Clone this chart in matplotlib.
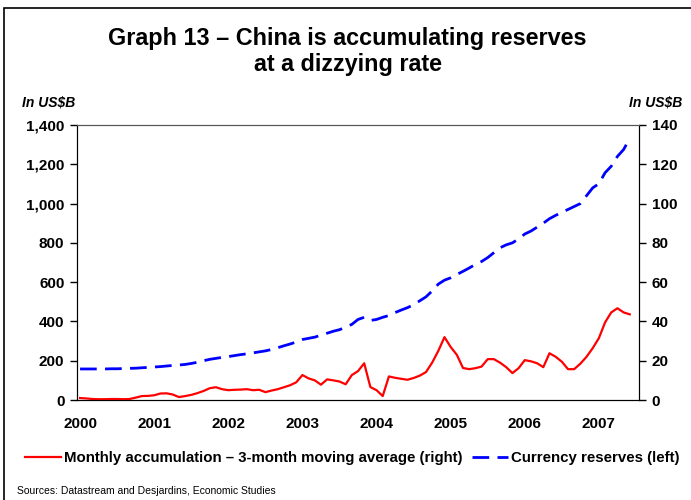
import matplotlib.pyplot as plt
from matplotlib.patches import Rectangle

plt.rcParams['font.family'] = ['Liberation Sans', 'DejaVu Sans']

# monthly data, Jan 2000 - Jun 2007
years = ["2000", "2001", "2002", "2003", "2004", "2005", "2006", "2007"]

# currency reserves, US$B (left axis)
reserves = [158, 158, 158, 158, 158, 159, 159, 160, 161, 162, 164, 166,
            168, 170, 173, 176, 178, 181, 186, 192, 200, 207, 212, 217,
            221, 226, 231, 235, 240, 245, 250, 257, 266, 276, 285, 295,
            308, 314, 320, 330, 340, 350, 358, 370, 385, 410, 421, 405,
            410, 421, 430, 445, 458, 470, 485, 505, 525, 555, 590, 610,
            622, 639, 655, 672, 690, 705, 725, 750, 775, 790, 800, 820,
            845, 860, 880, 900, 923, 940, 955, 970, 985, 1000, 1040, 1080,
            1101, 1157, 1190, 1240, 1275, 1332]

# monthly accumulation, 3-month moving average, US$B (right axis)
accumulation = [1.0, 0.8, 0.5, 0.4, 0.4, 0.5, 0.5, 0.4, 0.5, 1.2, 2.0, 2.1,
                2.4, 3.3, 3.4, 2.8, 1.5, 2.0, 2.6, 3.5, 4.6, 6.0, 6.5, 5.5,
                5.0, 5.2, 5.3, 5.5, 5.0, 5.2, 4.0, 4.8, 5.5, 6.5, 7.5, 9.0,
                12.7, 11.0, 10.0, 7.8, 10.5, 10.0, 9.4, 8.0, 12.7, 14.7, 18.7, 6.6,
                5.0, 2.0, 12.0, 11.3, 10.8, 10.3, 11.2, 12.4, 14.2, 19.0, 25.0, 32.0,
                27.0, 23.0, 16.3, 15.7, 16.2, 17.0, 20.8, 20.8, 19.0, 16.7, 13.7, 16.2,
                20.3, 19.7, 18.7, 16.7, 23.8, 22.0, 19.5, 15.7, 15.7, 18.5, 22.0, 26.4,
                31.5, 39.5, 44.6, 46.7, 44.6, 43.6]

months = list(range(len(reserves)))

fig = plt.figure(figsize=(6.91, 5.0), dpi=100)
ax = fig.add_axes([0.1114, 0.2, 0.8134, 0.55])
ax2 = ax.twinx()

l_res, = ax.plot(months, reserves, color="#0000FF", lw=2, dashes=(6, 3),
                 label="Currency reserves (left)")
l_acc, = ax2.plot(months, accumulation, color="#FF0000", lw=1.6,
                  label="Monthly accumulation \u2013 3-month moving average (right)")

ax.set_xlim(-0.5, 90.5)
ax.set_ylim(0, 1400)
ax2.set_ylim(0, 140)
ax.set_yticks(range(0, 1401, 200))
ax.set_yticklabels([f"{v:,}" for v in range(0, 1401, 200)])
ax2.set_yticks(range(0, 141, 20))
ax.set_xticks(range(0, 90, 12))
ax.set_xticklabels(years)

for a in (ax, ax2):
    a.tick_params(axis='y', direction='out', length=5, width=1, labelsize=11, pad=4)
    for lab in a.get_yticklabels():
        lab.set_fontweight('bold')
    a.spines['top'].set_color('#555555')
ax.tick_params(axis='x', length=0, labelsize=11, pad=12)
for lab in ax.get_xticklabels():
    lab.set_fontweight('bold')

# Titres
fig.text(0.503, 0.924, "Graph 13 \u2013 China is accumulating reserves",
         ha='center', va='center', fontsize=16.8, fontweight='bold')
fig.text(0.503, 0.871, "at a dizzying rate",
         ha='center', va='center', fontsize=16.8, fontweight='bold')
fig.text(0.032, 0.794, "In US$B", ha='left', va='center', fontsize=10,
         fontweight='bold', style='italic')
fig.text(0.988, 0.794, "In US$B", ha='right', va='center', fontsize=10,
         fontweight='bold', style='italic')
fig.text(0.025, 0.018, "Sources: Datastream and Desjardins, Economic Studies",
         ha='left', va='center', fontsize=7.5)

fig.legend([l_acc, l_res], [l_acc.get_label(), l_res.get_label()],
           loc='center', bbox_to_anchor=(0.51, 0.084), ncol=2, frameon=False,
           prop={'weight': 'bold', 'size': 10.8},
           handlelength=2.4, handletextpad=0.2, columnspacing=0.6)

# cadre
fig.patches.append(Rectangle((0.006, -0.05), 1.1, 1.034, transform=fig.transFigure,
                             fill=False, edgecolor='black', lw=1.2))

fig.savefig("out.png", dpi=100)
plt.close()
